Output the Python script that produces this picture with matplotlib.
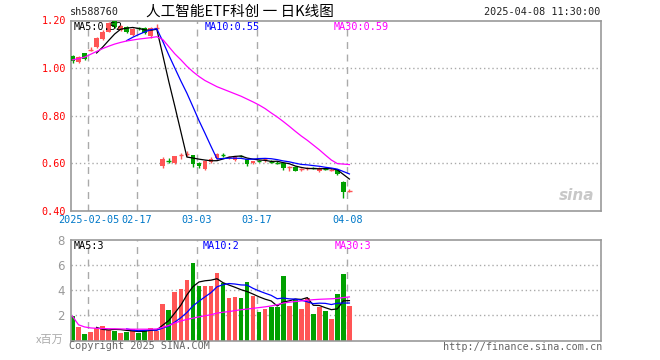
import numpy as np
import pandas as pd
import matplotlib
matplotlib.use("Agg")
import matplotlib.pyplot as plt

# daily K data, 47 trading days
opens = [1.053, 1.025, 1.062, 1.074, 1.090, 1.122, 1.153, 1.196, 1.159, 1.174,
         1.138, 1.168, 1.170, 1.133, 1.169, 0.588, 0.613, 0.601, 0.633, 0.638,
         0.635, 0.600, 0.576, 0.604, 0.623, 0.635, 0.624, 0.616, 0.630, 0.618,
         0.600, 0.611, 0.616, 0.608, 0.604, 0.600, 0.585, 0.586, 0.574, 0.578,
         0.580, 0.566, 0.577, 0.572, 0.572, 0.521, 0.483]
closes = [1.028, 1.048, 1.038, 1.076, 1.128, 1.150, 1.188, 1.174, 1.177, 1.150,
          1.165, 1.166, 1.146, 1.168, 1.172, 0.618, 0.611, 0.629, 0.635, 0.640,
          0.597, 0.588, 0.610, 0.620, 0.641, 0.633, 0.626, 0.627, 0.628, 0.598,
          0.610, 0.609, 0.618, 0.606, 0.602, 0.580, 0.587, 0.570, 0.576, 0.580,
          0.578, 0.582, 0.575, 0.574, 0.556, 0.480, 0.486]
highs = [1.056, 1.052, 1.065, 1.088, 1.132, 1.160, 1.192, 1.200, 1.180, 1.178,
         1.170, 1.172, 1.173, 1.172, 1.185, 0.625, 0.623, 0.632, 0.645, 0.650,
         0.637, 0.605, 0.613, 0.625, 0.645, 0.642, 0.632, 0.630, 0.634, 0.620,
         0.612, 0.616, 0.622, 0.613, 0.610, 0.602, 0.588, 0.590, 0.582, 0.586,
         0.584, 0.585, 0.582, 0.580, 0.575, 0.528, 0.492]
lows = [1.020, 1.020, 1.035, 1.070, 1.085, 1.118, 1.150, 1.168, 1.155, 1.146,
        1.134, 1.160, 1.143, 1.128, 1.160, 0.582, 0.600, 0.598, 0.617, 0.630,
        0.586, 0.582, 0.574, 0.600, 0.620, 0.625, 0.620, 0.612, 0.625, 0.590,
        0.598, 0.605, 0.605, 0.602, 0.598, 0.572, 0.570, 0.566, 0.568, 0.572,
        0.575, 0.563, 0.572, 0.568, 0.552, 0.456, 0.478]
ma30 = [1.035, 1.040, 1.046, 1.058, 1.070, 1.082, 1.092, 1.101, 1.108, 1.114,
        1.118, 1.122, 1.125, 1.128, 1.132, 1.120, 1.090, 1.060, 1.035, 1.008,
        0.985, 0.965, 0.948, 0.935, 0.922, 0.912, 0.902, 0.892, 0.882, 0.870,
        0.858, 0.845, 0.830, 0.812, 0.795, 0.776, 0.756, 0.735, 0.715, 0.697,
        0.677, 0.657, 0.635, 0.614, 0.599, 0.597, 0.595]

# volume in millions
volume = [1.95, 1.07, 0.52, 0.68, 1.00, 1.15, 0.86, 0.73, 0.60, 0.68,
          0.94, 0.62, 0.84, 1.00, 0.76, 2.90, 2.45, 3.86, 4.10, 4.82,
          6.17, 4.34, 4.34, 4.34, 5.40, 4.60, 3.38, 3.46, 3.38, 4.68,
          3.57, 2.29, 2.53, 2.67, 2.67, 5.16, 2.75, 3.25, 2.53, 3.38,
          2.11, 2.67, 2.37, 1.74, 3.70, 5.32, 2.75]
vol_ma30 = [1.93, 1.25, 1.08, 1.00, 0.97, 0.95, 0.94, 0.93, 0.92, 0.91,
            0.90, 0.90, 0.90, 0.90, 0.92, 1.05, 1.20, 1.40, 1.55, 1.68,
            1.78, 1.88, 1.97, 2.05, 2.18, 2.25, 2.30, 2.38, 2.45, 2.50,
            2.56, 2.62, 2.68, 2.75, 2.85, 2.98, 3.05, 3.10, 3.15, 3.20,
            3.25, 3.28, 3.30, 3.32, 3.35, 3.42, 3.47]

date_idx = [3, 11, 21, 31, 46]
date_labels = ["2025-02-05", "02-17", "03-03", "03-17", "04-08"]
price_ticks = [0.40, 0.60, 0.80, 1.00, 1.20]
vol_ticks = [2, 4, 6, 8]

RED = "#ff5555"
GREEN = "#00a000"
GRAY = "#999999"
MONO = "DejaVu Sans Mono"
CJK = ["Noto Sans CJK SC", "DejaVu Sans"]

fig = plt.figure(figsize=(6.6, 3.6), dpi=100)
W, H = 660.0, 360.0
x0, x1 = 70.5, 600.5
axp = fig.add_axes([x0 / W, 1 - 211 / H, (x1 - x0) / W, (211 - 20.5) / H])
axv = fig.add_axes([x0 / W, 1 - 340.5 / H, (x1 - x0) / W, (340.5 - 240) / H])

n = len(closes)
idx = np.arange(n)
step = 6.02
xl = (x0 - 72.5) / step
xr = xl + (x1 - x0) / step

for ax in (axp, axv):
    ax.set_xlim(xl, xr)
    ax.set_xticks([])
    for s in ax.spines.values():
        s.set_color(GRAY)
        s.set_linewidth(1.2)
    for d in date_idx:
        ax.axvline(d - 0.35, color="#aaaaaa", lw=1, ls=(0, (5, 4)), zorder=0)
    ax.tick_params(axis="y", length=0)

# price panel
axp.set_ylim(0.40, 1.20)
for g in [0.60, 0.80, 1.00]:
    axp.axhline(g, color="#aaaaaa", lw=1, ls=(0, (1, 2)), zorder=0)
bw = 0.78
for i in idx:
    o, c, h, l = opens[i], closes[i], highs[i], lows[i]
    col = RED if c >= o else GREEN
    axp.vlines(i, l, h, color=col, lw=1, zorder=2)
    if abs(c - o) < 0.004:
        axp.hlines((o + c) / 2, i - bw / 2, i + bw / 2, color=col, lw=1, zorder=3)
    else:
        axp.bar(i, abs(c - o), bottom=min(o, c), width=bw, color=col,
                lw=0, zorder=3)

cs = pd.Series(closes)
axp.plot(idx, cs.rolling(5).mean(), color="black", lw=0.9, zorder=4)
axp.plot(idx, cs.rolling(10).mean(), color="blue", lw=0.9, zorder=4)
axp.plot(idx, ma30, color="magenta", lw=0.9, zorder=4)

axp.set_yticks(price_ticks)
axp.set_yticklabels(["%.2f" % t for t in price_ticks], color="red",
                    fontsize=7.3, family=MONO)
axp.tick_params(axis="y", pad=3)

fig.text(74 / W, 1 - 27 / H, "MA5:0.52", fontsize=7.3, family=MONO,
         color="black", va="center", zorder=6)
fig.text(205 / W, 1 - 27 / H, "MA10:0.55", fontsize=7.3, family=MONO,
         color="blue", va="center")
fig.text(334 / W, 1 - 27 / H, "MA30:0.59", fontsize=7.3, family=MONO,
         color="magenta", va="center")

for d, lab in zip(date_idx, date_labels):
    axp.text(d - 0.35, 0.40 - 0.016, lab, ha="center", va="top",
             fontsize=7.3, family=MONO, color="#0078c8")

# faint sina watermark, bottom right of the price frame
axp.text(0.955, 0.08, "sina", transform=axp.transAxes, fontsize=11,
         fontweight="bold", style="italic", color="#bbbbbb", alpha=0.8,
         ha="center", va="center")

# volume panel
axv.set_ylim(0, 8)
for g in [2, 4, 6]:
    axv.axhline(g, color="#aaaaaa", lw=1, ls=(0, (1, 2)), zorder=0)
vcol = [RED if closes[i] >= opens[i] else GREEN for i in idx]
axv.bar(idx, volume, width=bw, color=vcol, lw=0, zorder=2)
vs = pd.Series(volume)
axv.plot(idx, vs.rolling(5).mean(), color="black", lw=0.9, zorder=4)
axv.plot(idx, vs.rolling(10).mean(), color="blue", lw=0.9, zorder=4)
axv.plot(idx, vol_ma30, color="magenta", lw=0.9, zorder=4)
axv.set_yticks(vol_ticks)
axv.set_yticklabels([str(t) for t in vol_ticks], color=GRAY, fontsize=8.5)
axv.tick_params(axis="y", pad=4)

fig.text(74 / W, 1 - 246 / H, "MA5:3", fontsize=7.3, family=MONO,
         color="black", va="center")
fig.text(203 / W, 1 - 246 / H, "MA10:2", fontsize=7.3, family=MONO,
         color="blue", va="center")
fig.text(335 / W, 1 - 246 / H, "MA30:3", fontsize=7.3, family=MONO,
         color="magenta", va="center")
fig.text(64 / W, 1 - 340 / H, "x百万", fontsize=8, color="#aaaaaa",
         ha="right", va="center", family=CJK)

# header
fig.text(70 / W, 1 - 12 / H, "sh588760", fontsize=7.3, family=MONO,
         color="#222222", va="center")
fig.text(240 / W, 1 - 12 / H, "人工智能ETF科创 一 日K线图", fontsize=10.5,
         color="black", ha="center", va="center", family=CJK)
fig.text(600 / W, 1 - 12 / H, "2025-04-08 11:30:00", fontsize=7.3,
         family=MONO, color="#222222", ha="right", va="center")

# footer
fig.text(69 / W, 1 - 346 / H, "Copyright 2025 SINA.COM", fontsize=7.3,
         family=MONO, color="#666666", va="center")
fig.text(602 / W, 1 - 347 / H, "http://finance.sina.com.cn", fontsize=7.3,
         family=MONO, color="#666666", ha="right", va="center")

fig.savefig("out.png", dpi=100)
